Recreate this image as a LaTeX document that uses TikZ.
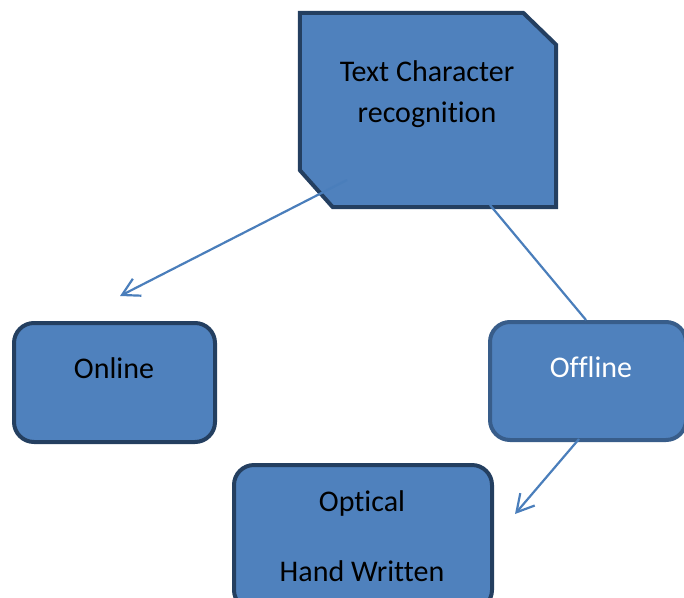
\documentclass[tikz,border=0pt]{standalone}
\usepackage{fontspec}
\setmainfont{Carlito}[Ligatures=NoCommon]
\usetikzlibrary{arrows.meta,calc}
\definecolor{boxfill}{HTML}{4F81BD}
\definecolor{boxdark}{HTML}{243F60}
\definecolor{boxmid}{HTML}{385D8A}
\definecolor{linkblue}{HTML}{4A7EBB}
\tikzset{
  rbox/.style={draw=boxdark, fill=boxfill, line width=4pt, rounded corners=20pt, inner sep=0pt},
  lbl/.style={font=\fontsize{30}{41}\selectfont, inner sep=0pt, align=center},
  link/.style={draw=linkblue, line width=2.2pt},
  barb/.style={-{Straight Barb[length=17pt,width=19pt]}}
}
\begin{document}
\begin{tikzpicture}[x=1pt,y=-1pt]
\useasboundingbox (0,0) rectangle (684,597);
\clip (0,0) rectangle (684,597);
% top chamfered shape
\node[minimum width=256pt, minimum height=194pt, inner sep=0pt] (tcr) at (428,110) {};
\draw[draw=boxdark, fill=boxfill, line width=4pt, line join=miter]
  (tcr.north west) -- ($(tcr.north east)+(-33,0)$) -- ($(tcr.north east)+(0,32)$)
  -- (tcr.south east) -- ($(tcr.south west)+(33,0)$) -- ($(tcr.south west)+(0,-37)$) -- cycle;
\node[lbl] (tcrtext) at (427,94) {Text Character\\recognition};
% Online
\node[rbox, minimum width=201pt, minimum height=119pt] (online) at (114.5,382.5) {};
\node[lbl] (onlinetext) at (114,368) {Online};
% Offline
\node[rbox, draw=boxmid, minimum width=196pt, minimum height=118pt] (offline) at (588,381) {};
\node[lbl, text=white] (offlinetext) at (591,367) {Offline};
% Optical / Hand Written
\node[rbox, minimum width=258pt, minimum height=145pt] (optical) at (363,537.5) {};
\node[lbl] (opticaltext) at (362,503) {Optical};
\node[lbl] (handtext) at (362,571) {Hand Written};
% connectors
\coordinate (a1s) at (347,180);
\coordinate (a1e) at (120,296);
\coordinate (l2s) at (490,205);
\coordinate (l2e) at (586,320);
\coordinate (a3s) at (579,439);
\coordinate (a3e) at (515,514);
\draw[link, barb] (a1s) -- (a1e);
\draw[link] (l2s) -- (l2e);
\draw[link, barb] (a3s) -- (a3e);
\end{tikzpicture}
\end{document}
